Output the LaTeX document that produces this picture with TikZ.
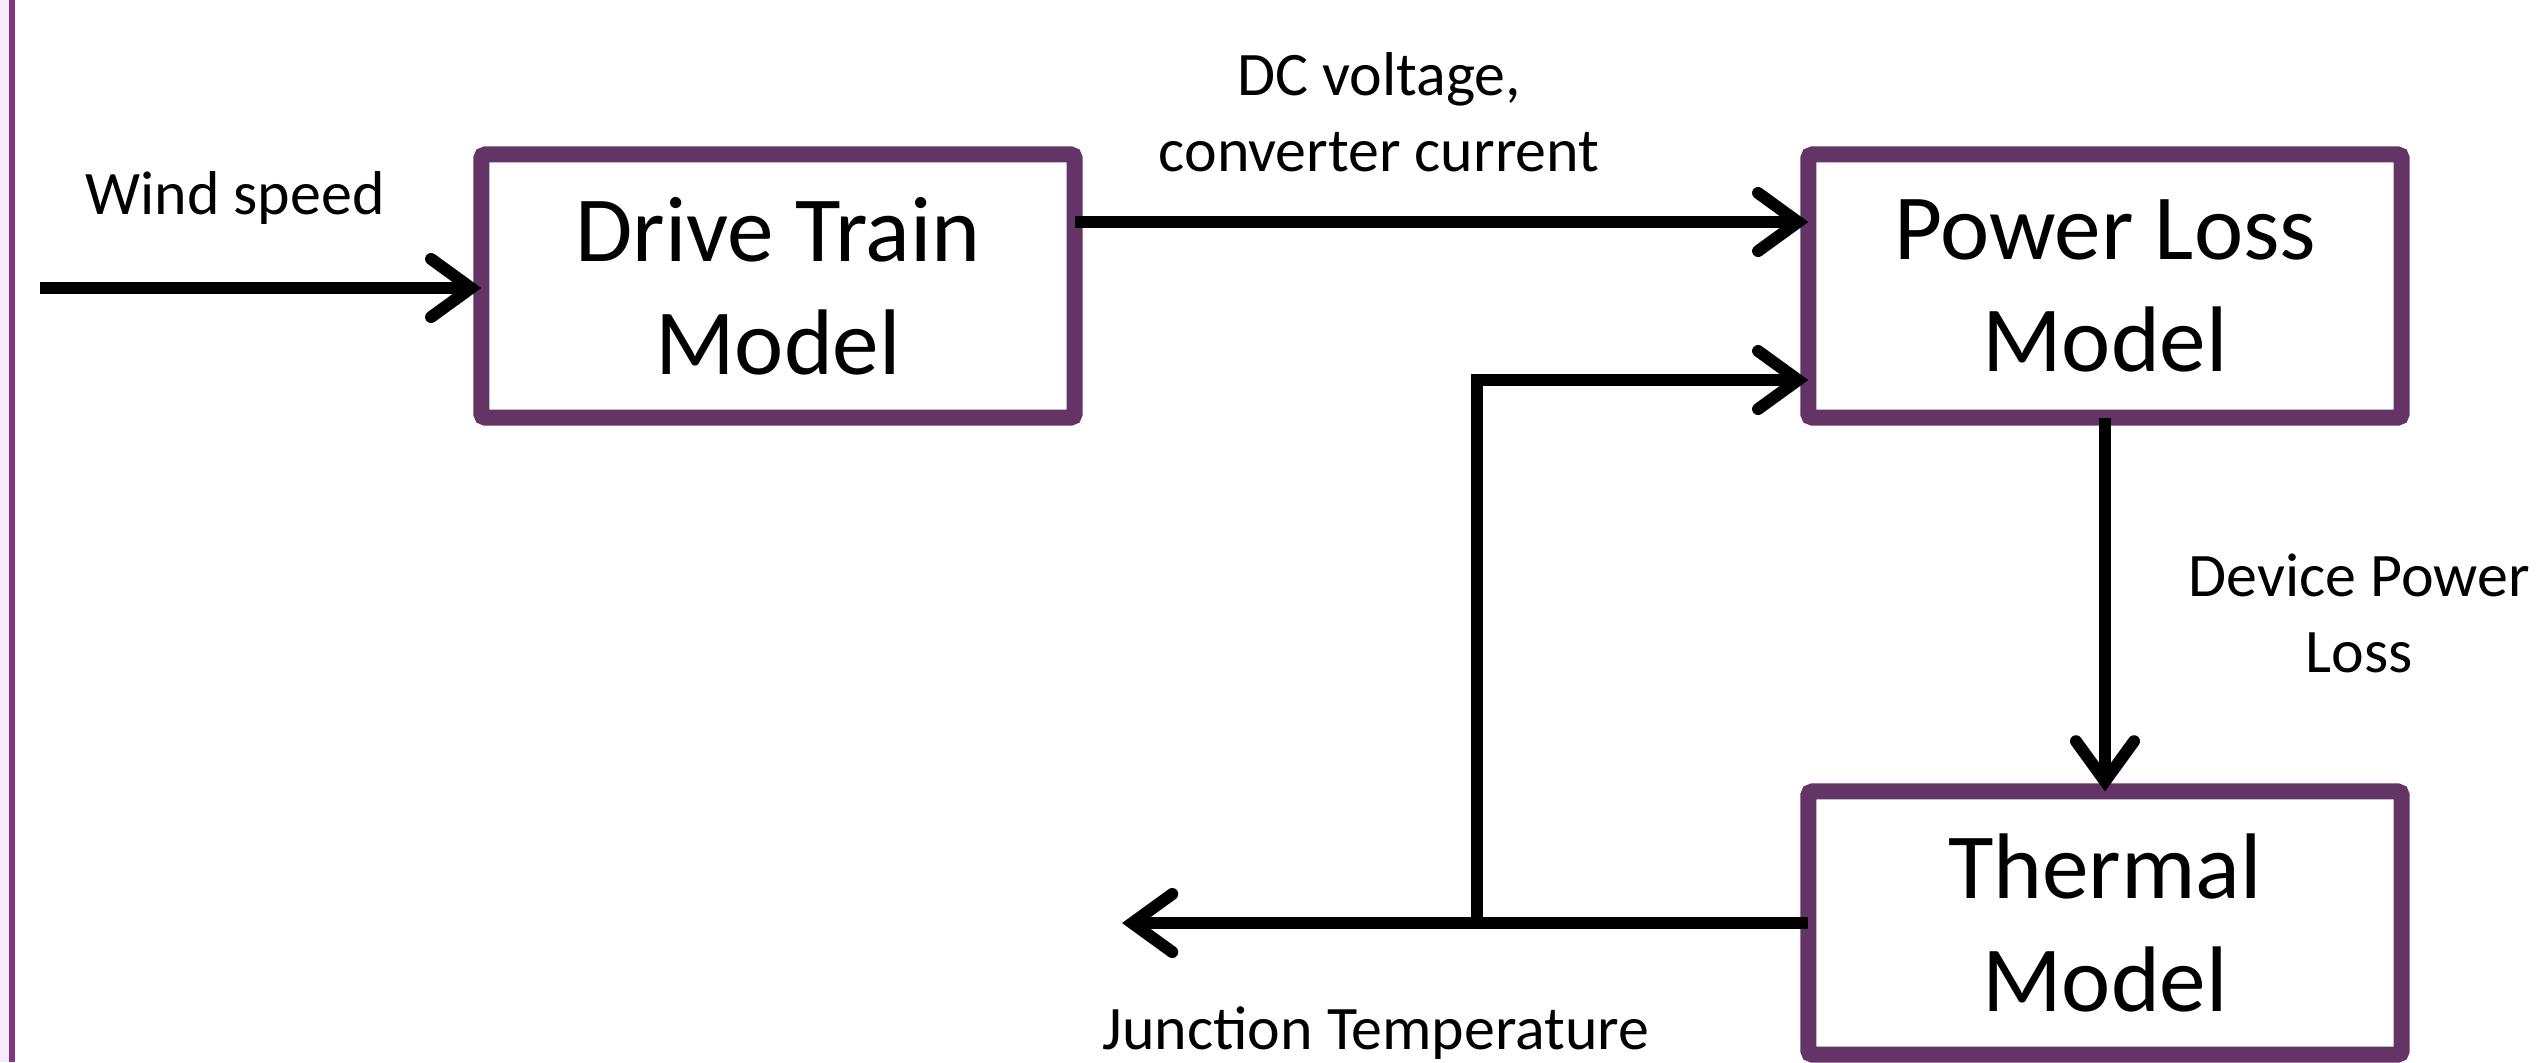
\documentclass[tikz,border=0pt]{standalone}
\usepackage{fontspec}
\setmainfont{Carlito}
\usetikzlibrary{arrows.meta}
\definecolor{boxpurple}{RGB}{100,52,103}
\definecolor{edgepurple}{RGB}{127,55,131}
\definecolor{lavender}{RGB}{245,235,250}
\tikzset{
  modelbox/.style={draw=boxpurple, line width=0.16cm, rounded corners=0.04cm, fill=white,
    minimum width=5.93cm, minimum height=2.63cm, outer sep=0pt, align=center,
    font=\fontsize{26.5}{32}\selectfont},
  lbl/.style={align=center, inner sep=0pt, font=\fontsize{17.6}{21.6}\selectfont},
  arr/.style={line width=0.12cm, line cap=butt,
    -{Straight Barb[length=0.4cm,width=0.58cm,line cap=round,line join=miter]}},
  plain/.style={line width=0.12cm}
}
\begin{document}
\begin{tikzpicture}[x=0.01cm,y=-0.01cm]
\useasboundingbox (0,0) rectangle (2539,1062);
\clip (0,0) rectangle (2539,1062);
\fill[lavender] (0,0) rectangle (9,1062);
\fill[edgepurple] (9,0) rectangle (15,1062);

\node[modelbox] (drive) at (778,286) {Drive Train\\Model};
\node[modelbox] (power) at (2105,286) {Power Loss\\Model};
\node[modelbox] (thermal) at (2105,923) {Thermal\\Model};

\node[lbl] (wslbl) at (235,198) {Wind speed};
\node[lbl] (dclbl) at (1379,112) {DC voltage,\\converter current};
\node[lbl] (dplbl) at (2359,613) {Device Power\\Loss};
\node[lbl] (jtlbl) at (1376,1033) {Junction Temperature};

\coordinate (ws) at (40,288);
\coordinate (dcy) at (0,222);
\coordinate (fby) at (0,380);
\coordinate (jt) at (1122,923);
\coordinate (br) at (1477,923);

\draw[arr] (ws) -- (ws -| drive.west);
\draw[arr] (drive.east |- dcy) -- (power.west |- dcy);
\draw[arr] (power.south) -- (thermal.north);
\draw[arr] (thermal.west) -- (jt);
\draw[arr] (br) |- (power.west |- fby);
\end{tikzpicture}
\end{document}
